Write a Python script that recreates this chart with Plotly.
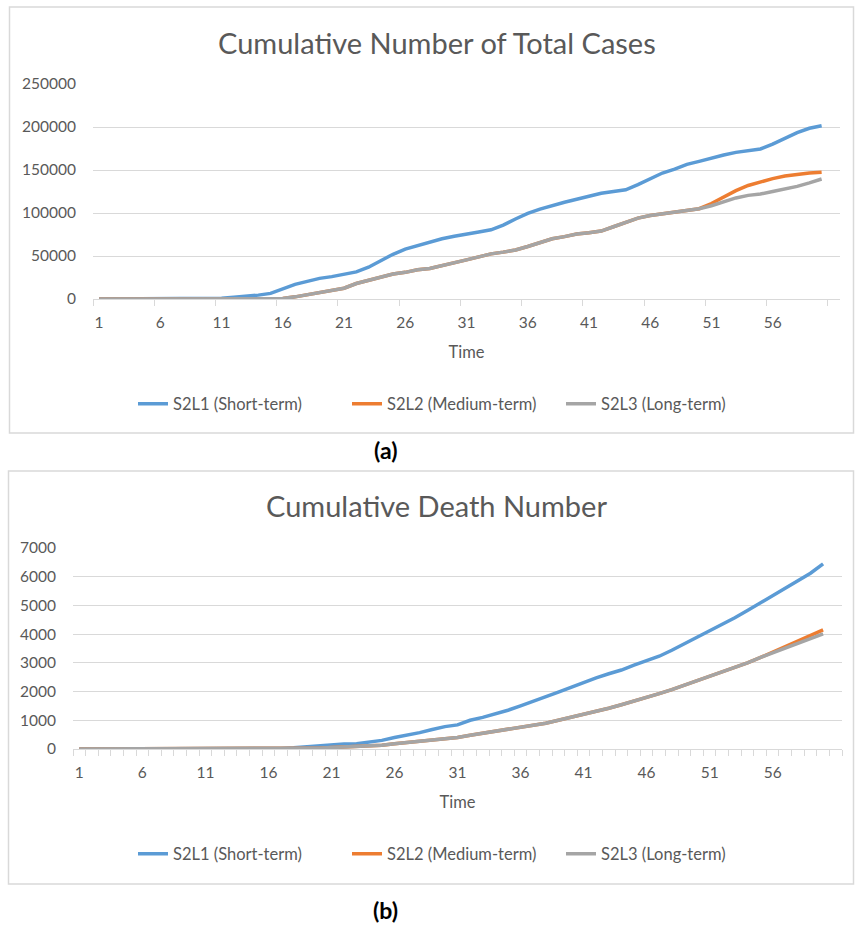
import plotly.graph_objects as go

# Day index shared by both panels
days = list(range(1, 61))

# Cumulative total cases per scenario
cases_short = [0] * 10 + [
    1000, 2000, 3000, 4500, 6500, 11500, 17000, 20500, 24000, 26000,
    29000, 31500, 37000, 45000, 52000, 58000, 62000, 66500, 70000, 73000,
    75000, 78000, 80500, 86000, 93000, 99500, 104500, 109000, 112500, 116000,
    119500, 123000, 125000, 127000, 133000, 140000, 146500, 151000, 156500, 160000,
    164000, 167500, 170500, 172500, 174500, 180000, 187000, 193500, 198500, 201500,
]
cases_long = [0] * 15 + [
    500, 2500, 5000, 7000, 9000, 12500, 18000, 22000, 26000, 29000,
    31000, 34000, 35500, 38500, 42000, 45500, 49000, 52500, 54500, 57000,
    61000, 66000, 70000, 72500, 75500, 77000, 79000, 84000, 89000, 94000,
    97000, 99000, 101500, 103500, 105000, 108500, 113000, 117500, 120500, 122000,
    125000, 127500, 131000, 135000, 139500,
]
cases_medium = cases_long[:50] + [
    111000, 118500, 126000, 132000, 136500, 140000, 143000, 145000, 146500, 147500,
]

# Cumulative deaths per scenario
deaths_short = [0] * 16 + [
    20, 40, 80, 100, 130, 170, 180, 230, 300, 400,
    480, 570, 680, 780, 840, 1000, 1100, 1220, 1350, 1500,
    1650, 1800, 1980, 2150, 2320, 2480, 2620, 2750, 2920, 3080,
    3230, 3440, 3660, 3880, 4100, 4330, 4570, 4820, 5080, 5330,
    5570, 5830, 6120, 6450,
]
deaths_long = [0] * 19 + [
    30, 50, 70, 100, 110, 130, 180, 220, 260, 300,
    350, 400, 480, 550, 600, 680, 750, 830, 900, 1000,
    1100, 1200, 1320, 1420, 1540, 1660, 1790, 1930, 2070, 2220,
    2380, 2520, 2680, 2830, 3000, 3180, 3350, 3520, 3690, 3860,
    4010,
]
deaths_medium = deaths_long[:55] + [3380, 3580, 3770, 3960, 4150]

series_names = ["S2L1 (Short-term)", "S2L2 (Medium-term)", "S2L3 (Long-term)"]
series_colors = ["#5B9BD5", "#ED7D31", "#A5A5A5"]

x_tick_vals = list(range(1, 60, 5))
cases_ticks = [0, 50000, 100000, 150000, 200000, 250000]
deaths_ticks = [0, 1000, 2000, 3000, 4000, 5000, 6000, 7000]

W, H = 855, 927
FONT = "Lato"
TXT = "#595959"
GRID = "#D9D9D9"


def px_x(v):
    return v / W


def px_y(v):
    return 1 - v / H


fig = go.Figure()

for name, color, ys in zip(series_names, series_colors, [cases_short, cases_medium, cases_long]):
    fig.add_trace(go.Scatter(x=days, y=ys, mode="lines", name=name,
                             line=dict(color=color, width=3.5),
                             xaxis="x", yaxis="y", legend="legend"))

for name, color, ys in zip(series_names, series_colors, [deaths_short, deaths_medium, deaths_long]):
    fig.add_trace(go.Scatter(x=days, y=ys, mode="lines", name=name,
                             line=dict(color=color, width=3.5),
                             xaxis="x2", yaxis="y2", legend="legend2"))


def x_axis(domain, anchor, minor_step):
    return dict(
        domain=domain, anchor=anchor, range=[0.5, 61.5], automargin=False,
        tickmode="array", tickvals=x_tick_vals, ticks="",
        ticklabelstandoff=9,
        showgrid=False, zeroline=False,
        showline=True, linecolor=GRID, linewidth=1,
        tickfont=dict(family=FONT, size=15.5, color=TXT),
        title=dict(text="Time", font=dict(family=FONT, size=16.5, color=TXT), standoff=16),
        minor=dict(tickmode="linear", tick0=0.5, dtick=minor_step, ticks="outside",
                   ticklen=6, tickcolor=GRID, tickwidth=1, showgrid=False),
    )


def y_axis(domain, anchor, ticks, top):
    return dict(
        domain=domain, anchor=anchor, range=[0, top], automargin=False,
        tickmode="array", tickvals=ticks, tickformat="d",
        showgrid=True, gridcolor=GRID, gridwidth=1,
        zeroline=False, showline=False, ticks="",
        ticklabelstandoff=16,
        tickfont=dict(family=FONT, size=15.5, color=TXT),
    )


def legend_box(y_px):
    return dict(orientation="h", x=px_x(133), y=px_y(y_px), xanchor="left", yanchor="middle",
                entrywidth=169, entrywidthmode="pixels",
                font=dict(family=FONT, size=16.5, color=TXT), bgcolor="rgba(0,0,0,0)")


fig.update_layout(
    width=W, height=H,
    margin=dict(l=0, r=0, t=0, b=0, autoexpand=False),
    paper_bgcolor="white", plot_bgcolor="white",
    xaxis=x_axis([px_x(93), px_x(840)], "y", 5),
    yaxis=y_axis([px_y(299), px_y(84)], "x", cases_ticks, 250000),
    xaxis2=x_axis([px_x(73), px_x(842)], "y2", 1),
    yaxis2=y_axis([px_y(749), px_y(548)], "x2", deaths_ticks, 7000),
    legend=legend_box(404),
    legend2=legend_box(854),
    showlegend=True,
)

# Chart frames
fig.add_shape(type="rect", xref="paper", yref="paper",
              x0=px_x(9.5), x1=px_x(853.5), y0=px_y(433), y1=px_y(7),
              line=dict(color=GRID, width=1.5), layer="below")
fig.add_shape(type="rect", xref="paper", yref="paper",
              x0=px_x(8.5), x1=px_x(853.5), y0=px_y(884), y1=px_y(471),
              line=dict(color=GRID, width=1.5), layer="below")

# Titles and panel labels
labels = [
    ("Cumulative Number of Total Cases", 437, 42, 29, TXT),
    ("Cumulative Death Number", 437, 505, 29, TXT),
    ("<b>(a)</b>", 385, 450, 23, "black"),
    ("<b>(b)</b>", 385, 910, 23, "black"),
]
for text, lx, ly, size, color in labels:
    fig.add_annotation(text=text, xref="paper", yref="paper",
                       x=px_x(lx), y=px_y(ly), xanchor="center", yanchor="middle",
                       showarrow=False, font=dict(family=FONT, size=size, color=color))

fig.write_html("out.html")
